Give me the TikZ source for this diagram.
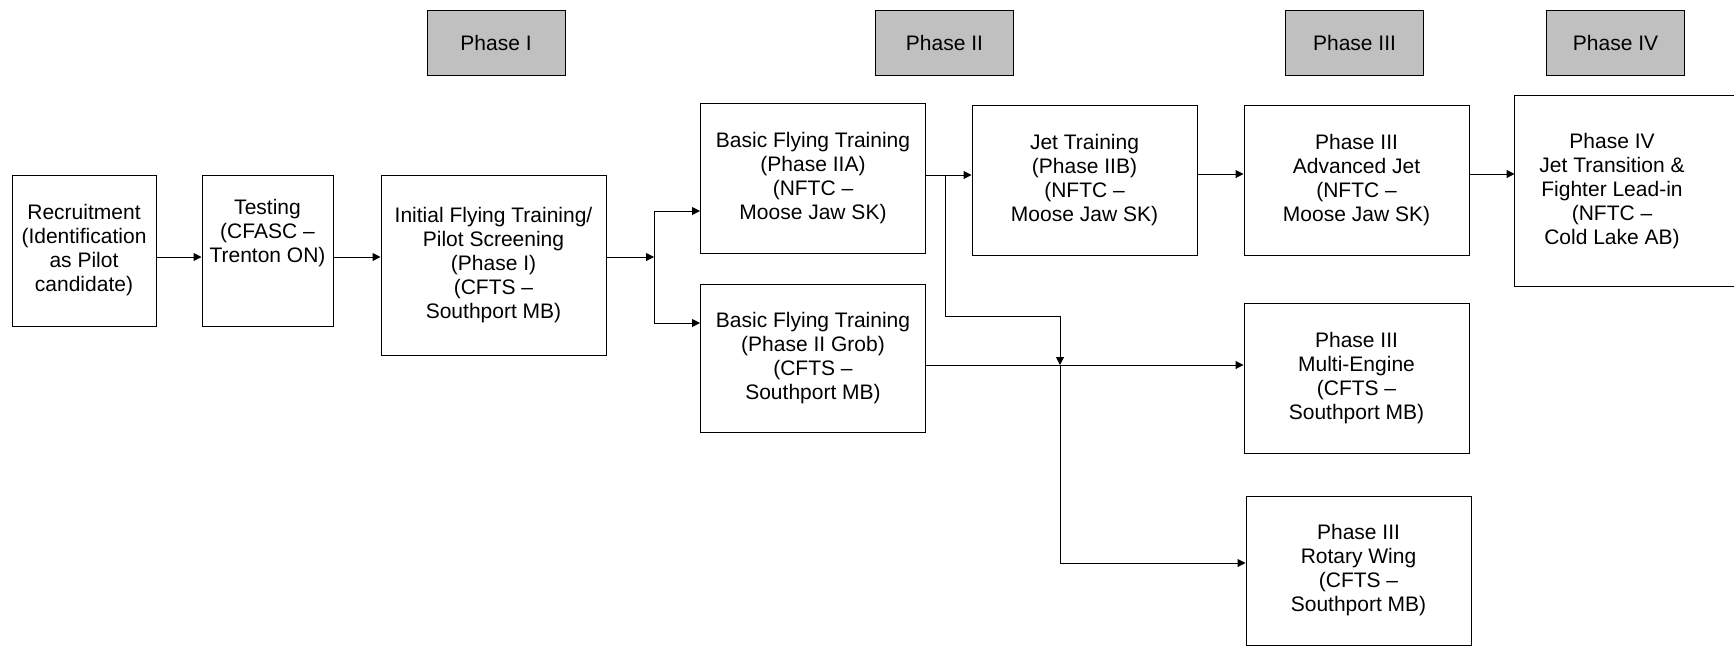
\documentclass[tikz,border=0pt]{standalone}
\usepackage{fontspec}
\setmainfont{Liberation Sans}
\usetikzlibrary{arrows.meta}
\definecolor{headgray}{HTML}{C0C0C0}
\tikzset{
  stage/.style={draw, line width=1pt, align=center, inner sep=0pt,
    font=\fontsize{21}{24}\selectfont},
  wide/.style={minimum width=225pt, minimum height=150pt},
  phasehead/.style={stage, fill=headgray, minimum width=138pt, minimum height=65pt},
  arr/.style={line width=1pt, -{Triangle[length=8pt,width=8pt]}},
}
\begin{document}
\begin{tikzpicture}[x=1pt,y=-1pt]
\useasboundingbox (0,0) rectangle (1734,646);
\clip (0,0) rectangle (1734,646);

% phase headers
\node[phasehead] (hI) at (496,42.5) {Phase I};
\node[phasehead] (hII) at (944.5,42.5) {Phase II};
\node[phasehead] (hIII) at (1354.5,42.5) {Phase III};
\node[phasehead] (hIV) at (1615.5,42.5) {Phase IV};

% stages
\node[stage, minimum width=144pt, minimum height=151pt] (rec) at (84,250.5)
  {Recruitment\\(Identification\\as Pilot\\candidate)};
\node[stage, minimum width=131pt, minimum height=151pt, text depth=40pt] (test) at (267.5,250.5)
  {Testing\\(CFASC –\\Trenton ON)};
\node[stage, minimum width=225pt, minimum height=180pt] (ift) at (493.5,265)
  {Initial Flying Training/\\Pilot Screening\\(Phase I)\\(CFTS –\\Southport MB)};
\node[stage, wide] (bfta) at (813,178)
  {Basic Flying Training\\(Phase IIA)\\(NFTC –\\Moose Jaw SK)};
\node[stage, wide, minimum height=148pt] (bftb) at (813,358)
  {Basic Flying Training\\(Phase II Grob)\\(CFTS –\\Southport MB)};
\node[stage, wide] (jet) at (1084.5,180)
  {Jet Training\\(Phase IIB)\\(NFTC –\\Moose Jaw SK)};
\node[stage, wide] (adv) at (1356.5,180)
  {Phase III\\Advanced Jet\\(NFTC –\\Moose Jaw SK)};
\node[stage, wide] (multi) at (1356.5,378)
  {Phase III\\Multi-Engine\\(CFTS –\\Southport MB)};
\node[stage, wide, minimum height=149pt] (rot) at (1358.5,570.5)
  {Phase III\\Rotary Wing\\(CFTS –\\Southport MB)};
\node[stage, draw=none, minimum width=194pt, minimum height=190pt] (p4) at (1612,191)
  {Phase IV\\Jet Transition \&\\Fighter Lead-in\\(NFTC –\\Cold Lake AB)};
\draw[line width=1pt] ([xshift=40pt]p4.north east) -- (p4.north west)
  -- (p4.south west) -- ([xshift=40pt]p4.south east);

% connectors
\coordinate (split) at (654,257);
\coordinate (tap) at (945,175);
\coordinate (drop) at (1060,365);
\draw[arr] (rec.east |- split) -- (test.west |- split);
\draw[arr] (test.east |- split) -- (ift.west |- split);
\draw[arr] (ift.east |- split) -- (split);
\draw[arr] (split) |- (bfta.west |- 0,211);
\draw[arr] (split) |- (bftb.west |- 0,323);
\draw[arr] (bfta.east |- tap) -- (jet.west |- tap);
\draw[arr] (tap) |- (drop |- 0,316) -- (drop);
\draw[arr] (bftb.east |- drop) -- (multi.west |- drop);
\draw[arr] (drop) |- (rot.west |- 0,563);
\draw[arr] (jet.east |- 0,174) -- (adv.west |- 0,174);
\draw[arr] (adv.east |- 0,174) -- (p4.west |- 0,174);
\end{tikzpicture}
\end{document}
